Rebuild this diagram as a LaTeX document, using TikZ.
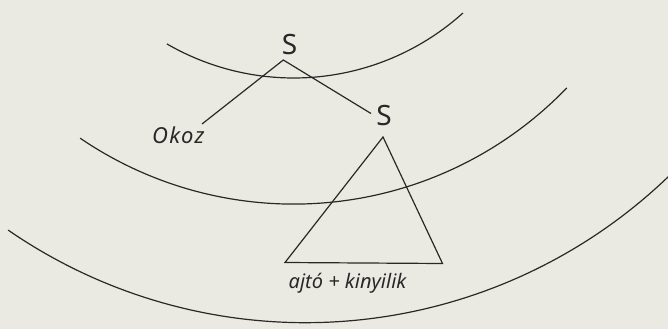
\documentclass[tikz,border=0pt]{standalone}
\usepackage{fontspec}
\setmainfont{Noto Sans}
\definecolor{paper}{RGB}{235,234,226}
\definecolor{ink}{RGB}{40,40,40}
\begin{document}
\begin{tikzpicture}[x=1pt,y=-1pt,
  stroke/.style={draw=ink,line width=1.2pt},
  bigS/.style={text=ink,font=\fontsize{28}{30}\selectfont,inner sep=0pt,anchor=base},
  lbl/.style={text=ink,font=\fontsize{20}{22}\selectfont\itshape,inner sep=0pt}]
\fill[paper] (0,0) rectangle (668,329);
\useasboundingbox (0,0) rectangle (668,329);
\begin{scope}
\clip (0,0) rectangle (668,329);
% arcs
\draw[stroke] plot[domain=48:120.1,samples=150,smooth] ({293.7+252.9*cos(\x)},{-174.9+252.9*sin(\x)});
\draw[stroke] plot[domain=43.9:124.3,samples=150,smooth] ({293.7+379*cos(\x)},{-174.9+379*sin(\x)});
\draw[stroke] plot[domain=45:124.6,samples=200,smooth] ({305.5+523.8*cos(\x)},{-201.1+523.8*sin(\x)});
\end{scope}
% nodes
\node[bigS] (s1) at (289.5,55) {S};
\node[bigS] (s2) at (384,125) {S};
\node[lbl,anchor=base west,font=\fontsize{22}{24}\selectfont\itshape\addfontfeatures{LetterSpace=6}] (okoz) at (152,143) {Okoz};
\node[lbl,anchor=base] (lab) at (347.5,288) {ajtó + kinyilik};
\coordinate (top) at (283.3,60);
\coordinate (okozend) at (202,124);
\coordinate (s2end) at (371,113.5);
\coordinate (tapex) at (383,137);
\coordinate (tleft) at (285,262.5);
\coordinate (tright) at (442.5,263.5);
\draw[stroke] (okozend) -- (top) -- (s2end);
\draw[stroke,line join=miter] (tapex) -- (tleft) -- (tright) -- cycle;
\end{tikzpicture}
\end{document}
